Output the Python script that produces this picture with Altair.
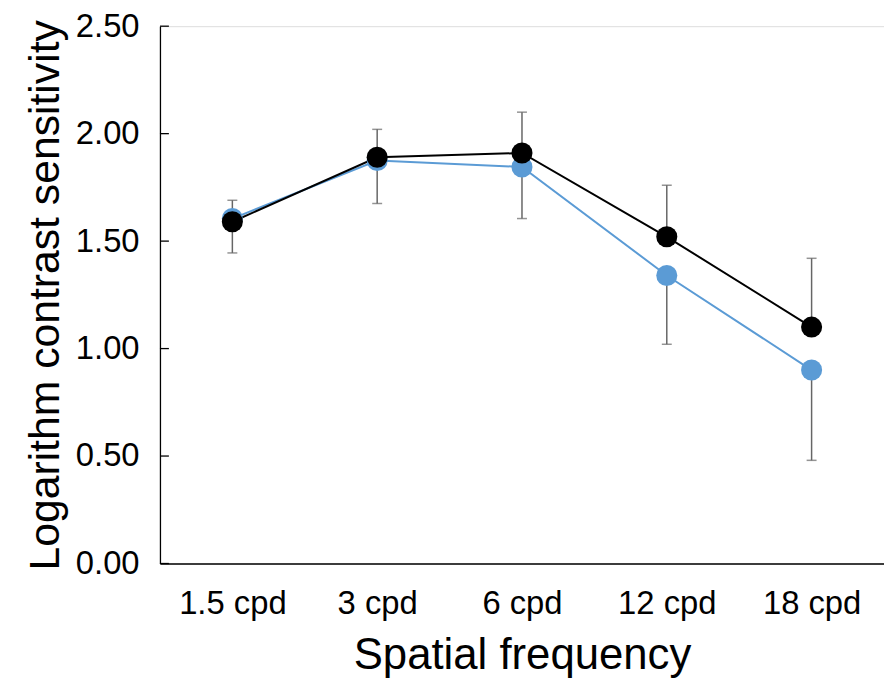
import altair as alt
import pandas as pd

freqs = ["1.5 cpd", "3 cpd", "6 cpd", "12 cpd", "18 cpd"]
black_vals = [1.59, 1.89, 1.91, 1.52, 1.10]
black_err = [0.10, 0.13, 0.19, 0.24, 0.32]
blue_vals = [1.605, 1.875, 1.845, 1.34, 0.90]
blue_err = [0.16, 0.20, 0.24, 0.32, 0.42]
y_ticks = [0.0, 0.5, 1.0, 1.5, 2.0, 2.5]

FONT = "Liberation Sans"

black_df = pd.DataFrame({
    "freq": freqs,
    "value": black_vals,
    "lo": black_vals,
    "hi": [v + e for v, e in zip(black_vals, black_err)],
})
black_df["cap"] = black_df["hi"]
blue_df = pd.DataFrame({
    "freq": freqs,
    "value": blue_vals,
    "lo": [v - e for v, e in zip(blue_vals, blue_err)],
    "hi": blue_vals,
})
blue_df["cap"] = blue_df["lo"]
ticks_df = pd.DataFrame({"v": y_ticks})

xscale = alt.Scale(type="point", padding=0.5, domain=freqs)
yscale = alt.Scale(domain=[0, 2.5], nice=False, zero=True)

x_enc = alt.X("freq:N", scale=xscale, sort=freqs,
              axis=alt.Axis(title="Spatial frequency", labelAngle=0, ticks=False,
                            tickSize=0, labelPadding=24, titlePadding=14,
                            labelFontSize=33, titleFontSize=44,
                            labelFont=FONT, titleFont=FONT,
                            labelColor="black", titleColor="black",
                            titleFontWeight="normal",
                            domainColor="black", domainWidth=1.3, grid=False))
y_axis = alt.Axis(title="Logarithm contrast sensitivity", values=y_ticks, format=".2f",
                  ticks=False, tickSize=0, labelPadding=21, titlePadding=8,
                  labelFontSize=33, titleFontSize=43,
                  labelFont=FONT, titleFont=FONT,
                  labelColor="black", titleColor="black",
                  titleFontWeight="normal",
                  domainColor="black", domainWidth=1.3, grid=False)

def err_layers(df):
    base = alt.Chart(df)
    rule = base.mark_rule(color="#666666", strokeWidth=1.5).encode(
        x=x_enc, y=alt.Y("lo:Q", scale=yscale, axis=y_axis), y2="hi:Q")
    cap = base.mark_tick(orient="horizontal", size=10, thickness=1.5, color="#666666").encode(
        x=x_enc, y=alt.Y("cap:Q", scale=yscale, axis=y_axis))
    return [rule, cap]

def line_layer(df, color):
    return alt.Chart(df).mark_line(color=color, strokeWidth=2).encode(
        x=x_enc, y=alt.Y("value:Q", scale=yscale, axis=y_axis))

def point_layer(df, color):
    return alt.Chart(df).mark_point(filled=True, color=color, size=450, opacity=1).encode(
        x=x_enc, y=alt.Y("value:Q", scale=yscale, axis=y_axis))

tick_layer = alt.Chart(ticks_df).mark_rule(color="black", strokeWidth=1.3).encode(
    y=alt.Y("v:Q", scale=yscale, axis=y_axis), x=alt.value(0), x2=alt.value(9))

layers = (err_layers(black_df) + err_layers(blue_df)
          + [line_layer(blue_df, "#5B9BD5"), line_layer(black_df, "#000000"),
             point_layer(blue_df, "#5B9BD5"), point_layer(black_df, "#000000"),
             tick_layer])

chart = alt.layer(*layers).properties(
    width=729, height=541,
    autosize=alt.AutoSizeParams(type="none"),
    padding={"left": 153, "top": 16, "right": 0, "bottom": 118},
).configure_view(stroke=None).configure(background="white")

chart.save("out.html", embed_options={"renderer": "svg", "actions": False})
